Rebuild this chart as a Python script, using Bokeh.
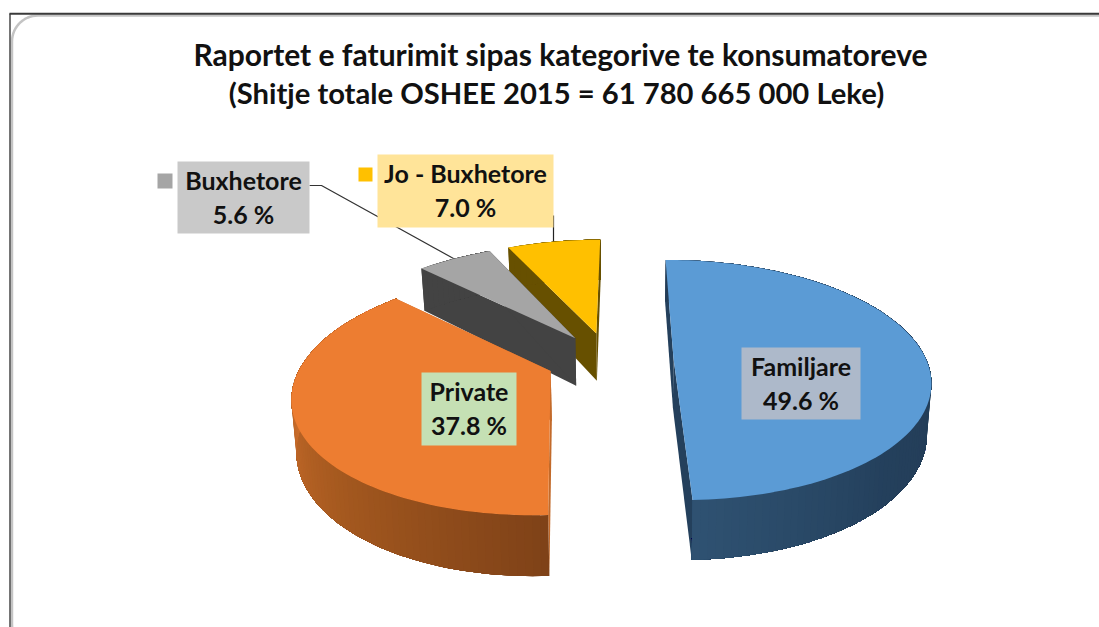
import math
from bokeh.plotting import figure
from bokeh.models import Range1d
from bokeh.core.properties import value
from bokeh.embed import file_html
from bokeh.resources import INLINE

# ---- data ----
categories = ["Familjare", "Private", "Buxhetore", "Jo - Buxhetore"]
shares = [49.6, 37.8, 5.6, 7.0]
percent_labels = ["49.6 %", "37.8 %", "5.6 %", "7.0 %"]
title_lines = ["Raportet e faturimit sipas kategorive te konsumatoreve",
               "(Shitje totale OSHEE 2015 = 61 780 665 000  Leke)"]

# ---- style / layout ----
top_colors = ["#5b9bd5", "#ed7d31", "#a5a5a5", "#ffc000"]
cut_colors = ["#24405c", "#c26a2a", "#434343", "#675000"]
rim_stops = [["#233c56", "#233c56", "#233c56", "#24405c", "#2f5272"],
             ["#7f4218", "#a5591f", "#cc6e2c", "#cc6e2c"],
             ["#434343", "#434343", "#434343", "#434343"],
             ["#675000", "#675000", "#675000", "#675000"]]
box_colors = ["#adb9ca", "#c5e0b4", "#c9c9c9", "#ffe499"]
explode = [(0.1665, 0.004), (-0.3145, 0.11), (-0.23, -0.175), (-0.145, -0.2185)]
radius_scale = [1.0, 0.98, 1.03, 1.03]
rotate_deg = [0.0, -1.0, 0.0, 0.0]
START_DEG = -0.4
X0, Y0, RX, RY, K, H, SHRINK = 631.0, 357.4, 252.0, 116.0, 0.18, 49.0, 0.985

boxes = [(741, 860, 347, 419), (421, 516, 372, 445), (177, 309, 161, 233), (377, 553, 154, 227)]
keys = [None, None, (157, 172, 173, 188), (358, 372, 167, 181)]

p = figure(width=1099, height=627, output_backend="svg", toolbar_location=None,
           x_range=Range1d(0, 1099), y_range=Range1d(627, 0), min_border=0,
           background_fill_color="white", border_fill_color="white")
p.axis.visible = False
p.grid.visible = False
p.outline_line_color = None


def project(wx, wz):
    s = 1.0 / (1.0 - K * wz)
    return X0 + wx * RX * s, Y0 + wz * RY * s, s


def top_pt(off, t, rs):
    return project(off[0] + rs * math.sin(t), off[1] - rs * math.cos(t))


def bottom_of(pt):
    x, y, s = pt
    return X0 + (x - X0) * SHRINK, y + H * s


def lerp_hex(stops, f):
    n = len(stops) - 1
    i = min(int(f * n), n - 1)
    g = f * n - i
    a = [int(stops[i][j:j + 2], 16) for j in (1, 3, 5)]
    b = [int(stops[i + 1][j:j + 2], 16) for j in (1, 3, 5)]
    return "#%02x%02x%02x" % tuple(round(u + (v - u) * g) for u, v in zip(a, b))


# ---- frame ----
fx0, fy0, fx1, fy1, fr = 11.5, 15.0, 1140.0, 650.0, 26.0
fxs, fys = [], []
for cx, cy, a0 in [(fx0 + fr, fy0 + fr, 180), (fx1 - fr, fy0 + fr, 270),
                   (fx1 - fr, fy1 - fr, 0), (fx0 + fr, fy1 - fr, 90)]:
    for d in range(0, 91, 6):
        an = math.radians(a0 + d)
        fxs.append(cx + fr * math.cos(an))
        fys.append(cy + fr * math.sin(an))
fxs.append(fxs[0]); fys.append(fys[0])
p.line(fxs, fys, line_color="#c4c4c4", line_width=2.5)
p.line([9.5, 9.5], [13, 627], line_color="#1a1a1a", line_width=1.2)
p.line([9, 1099], [13.2, 13.2], line_color="#3a3a3a", line_width=2)

# ---- title ----
p.text([560], [53], text=title_lines[:1], text_font=value("Lato"),
       text_font_style="bold", text_font_size="30px", text_color="#111111",
       text_align="center", text_baseline="middle")
p.text([559.5], [91.5], text=title_lines[1:], text_font=value("Lato"),
       text_font_style="bold", text_font_size="29.2px", text_color="#111111",
       text_align="center", text_baseline="middle")

# ---- leader lines ----
p.line([309, 321, 453], [185, 185, 258], line_color="#333333", line_width=1.2)
p.line([553, 553], [215, 242], line_color="#222222", line_width=1.2)

# ---- pie ----
total = sum(shares)
edges = [START_DEG]
for v in shares:
    edges.append(edges[-1] + 360.0 * v / total)

for idx in [3, 2, 1, 0]:
    off, rs = explode[idx], radius_scale[idx]
    t0 = math.radians(edges[idx] + rotate_deg[idx])
    t1 = math.radians(edges[idx + 1] + rotate_deg[idx])
    n = max(12, int((edges[idx + 1] - edges[idx]) / 1.5))
    ts = [t0 + (t1 - t0) * i / n for i in range(n + 1)]
    tops = [top_pt(off, t, rs) for t in ts]
    apex = project(off[0], off[1])

    for edge_pt in (tops[0], tops[-1]):
        a_b, e_b = bottom_of(apex), bottom_of(edge_pt)
        p.patch([apex[0], edge_pt[0], e_b[0], a_b[0]], [apex[1], edge_pt[1], e_b[1], a_b[1]],
                fill_color=cut_colors[idx], line_color=None)

    # outer rim: each band reaches to the end of the arc, later bands paint over it
    for i in range(n):
        seg = tops[i:]
        xs = [q[0] for q in seg] + [bottom_of(q)[0] for q in reversed(seg)]
        ys = [q[1] for q in seg] + [bottom_of(q)[1] for q in reversed(seg)]
        p.patch(xs, ys, fill_color=lerp_hex(rim_stops[idx], i / n), line_color=None)

    p.patch([apex[0]] + [q[0] for q in tops], [apex[1]] + [q[1] for q in tops],
            fill_color=top_colors[idx], line_color=None)

# ---- data labels ----
for i in [2, 3, 1, 0]:
    l, r, t, b = boxes[i]
    p.quad(left=[l], right=[r], top=[t], bottom=[b], fill_color=box_colors[i], line_color=None)
    if keys[i]:
        kl, kr, kt, kb = keys[i]
        p.quad(left=[kl], right=[kr], top=[kt], bottom=[kb], fill_color=top_colors[i], line_color=None)
    cx = (l + r) / 2
    p.text([cx, cx], [t + 18.5, t + 52], text=[categories[i], percent_labels[i]],
           text_font=value("Lato"), text_font_style="bold", text_font_size="25px",
           text_color="#111111", text_align="center", text_baseline="middle")

open("out.html", "w").write(file_html(p, INLINE))
